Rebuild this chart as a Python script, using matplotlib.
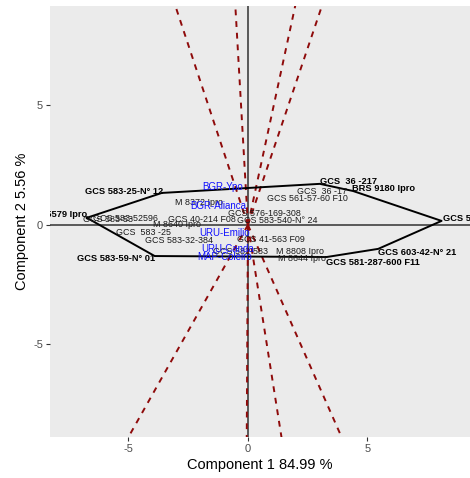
import numpy as np
import matplotlib
matplotlib.use('Agg')
import matplotlib.pyplot as plt

plt.rcParams['font.family'] = ['Liberation Sans', 'DejaVu Sans']
plt.rcParams['axes.unicode_minus'] = False

# convex hull of the winning genotypes (component 1, component 2)
hull_x = [-6.74, -3.60, 3.01, 4.40, 8.10, 5.45, 3.30, -3.90]
hull_y = [0.30, 1.34, 1.72, 1.42, 0.17, -1.00, -1.34, -1.30]

# vertex genotypes, labels anchored on the right
vtx_r_lab = ['GCS 583-25-N° 12', 'GCS 583-59-N° 01', 'BRS 5579 Ipro']
vtx_r_x = [-3.56, -3.89, -6.74]
vtx_r_y = [1.42, -1.42, 0.42]

# vertex genotypes, labels anchored on the left
vtx_l_lab = ['GCS  36 -217', 'BRS 9180 Ipro', 'GCS 583-47-N° 05',
             'GCS 603-42-N° 21', 'GCS 581-287-600 F11']
vtx_l_x = [3.01, 4.35, 8.16, 5.44, 3.26]
vtx_l_y = [1.80, 1.51, 0.29, -1.17, -1.55]

# other genotypes
gen_lab = ['M 8372 Ipro', 'GCS 583-53', 'GCS 583-52596', 'M 8640 Ipro',
           'GCS 40-214 F08', 'GCS 583-540-N° 24', 'GCS 576-169-308',
           'GCS 561-57-60 F10', 'GCS  36 -17', 'GCS  583 -25',
           'GCS 583-32-384', 'GCS 41-563 F09', 'GCS 582-583',
           'M 8808 Ipro', 'M 8644 Ipro']
gen_x = [-3.05, -6.90, -6.50, -3.97, -3.35, -0.46, -0.84, 0.79, 2.05,
         -5.52, -4.31, -0.46, -1.46, 1.17, 1.26]
gen_y = [0.92, 0.21, 0.25, 0.00, 0.21, 0.17, 0.46, 1.09, 1.42,
         -0.33, -0.63, -0.59, -1.09, -1.09, -1.42]

# environments
env_lab = ['BGR-Ypo', 'BGR-Alianca', 'URU-Emilio', 'URU-Canda', 'MAP-Coleiro']
env_x = [-1.92, -2.43, -2.05, -1.97, -2.13]
env_y = [1.59, 0.79, -0.33, -1.00, -1.34]

pc1, pc2 = 84.99, 5.56

fig = plt.figure(figsize=(4.7, 4.78), dpi=100)
ax = fig.add_axes([50 / 470, 41 / 478, 420 / 470, 431 / 478])
ax.set_facecolor('#EBEBEB')
for s in ax.spines.values():
    s.set_visible(False)

ax.axhline(0, color='#4D4D4D', lw=1.3, zorder=1)
ax.axvline(0, color='#4D4D4D', lw=1.3, zorder=1)

# polygon
px = hull_x + hull_x[:1]
py = hull_y + hull_y[:1]
ax.plot(px, py, color='black', lw=1.4, zorder=3)

# rays perpendicular to each side of the polygon
for i in range(len(hull_x)):
    p1 = np.array([hull_x[i], hull_y[i]])
    p2 = np.array([px[i + 1], py[i + 1]])
    d = p2 - p1
    t = -np.dot(p1, d) / np.dot(d, d)
    foot = p1 + t * d
    u = foot / np.linalg.norm(foot)
    ax.plot([0, 30 * u[0]], [0, 30 * u[1]], color='#8E0A0A', lw=1.4,
            linestyle=(0, (3, 3)), zorder=2)

for lab, x, y in zip(gen_lab, gen_x, gen_y):
    ax.text(x, y, lab, fontsize=6.4, color='#1A1A1A', ha='left', va='center',
            clip_on=True, zorder=4)
for lab, x, y in zip(vtx_r_lab, vtx_r_x, vtx_r_y):
    ax.text(x, y, lab, fontsize=6.7, fontweight='bold', color='black',
            ha='right', va='center', clip_on=True, zorder=5)
for lab, x, y in zip(vtx_l_lab, vtx_l_x, vtx_l_y):
    ax.text(x, y, lab, fontsize=6.7, fontweight='bold', color='black',
            ha='left', va='center', clip_on=True, zorder=5)
for lab, x, y in zip(env_lab, env_x, env_y):
    ax.text(x, y, lab, fontsize=7, color='#1010FF', ha='left', va='center',
            clip_on=True, zorder=6)

ax.set_xlim(-8.28, 9.29)
ax.set_ylim(-8.87, 9.16)
ax.set_xticks([-5, 0, 5])
ax.set_yticks([-5, 0, 5])
ax.tick_params(length=3, width=0.8, color='#333333', labelcolor='#4D4D4D',
               labelsize=8, pad=2)
ax.set_xlabel('Component 1 {:.2f} %'.format(pc1), fontsize=10.5, color='black',
              labelpad=3)
ax.set_ylabel('Component 2 {:.2f} %'.format(pc2), fontsize=10.5, color='black',
              labelpad=3)

plt.savefig('out.png', dpi=100)
